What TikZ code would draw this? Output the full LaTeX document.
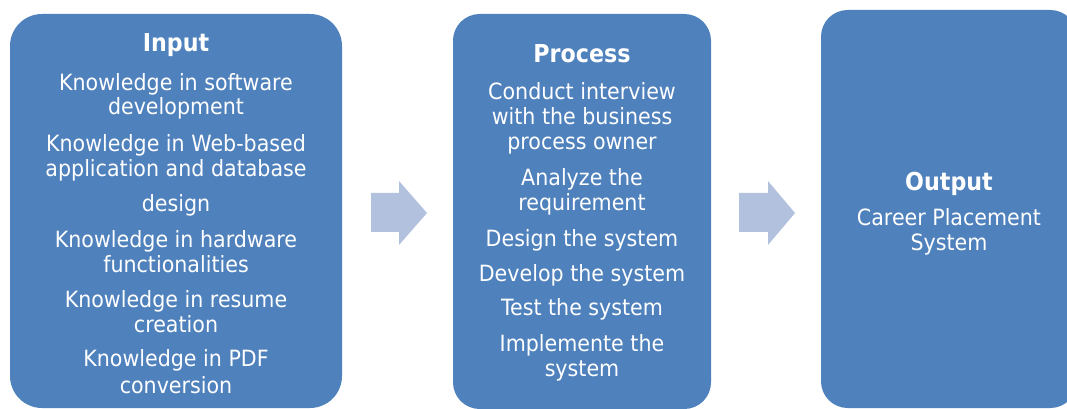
\documentclass[tikz,border=0pt]{standalone}
\usepackage{fontspec}
\setmainfont{DejaVu Sans}[FakeStretch=0.92]
\newfontfamily\ttlfont{DejaVu Sans}[FakeStretch=0.9]
\definecolor{boxblue}{RGB}{79,129,189}
\definecolor{arrowblue}{RGB}{178,194,222}
\begin{document}
\begin{tikzpicture}[x=0.75pt,y=-0.75pt,
  box/.style={fill=boxblue, draw=none, rounded corners=#1, inner sep=0pt, minimum width=0pt},
  flowarrow/.style={fill=arrowblue, draw=none},
  txt/.style={text=white, font=\fontsize{16.8}{19}\selectfont, inner sep=0pt, anchor=base},
  ttl/.style={text=white, font=\ttlfont\bfseries\fontsize{18.5}{21}\selectfont, inner sep=0pt, anchor=base}]
\useasboundingbox (0,0) rectangle (1067,409);
\clip (0,0) rectangle (1067,409);
% boxes
\node[box=24pt, minimum width=249pt, minimum height=295.5pt] (inbox) at (176,211) {};
\node[box=20pt, minimum width=193.5pt, minimum height=296.25pt] (procbox) at (582,211.5) {};
\node[box=20pt, minimum width=192pt, minimum height=298.5pt] (outbox) at (949,209) {};
% arrows
\path[flowarrow] (371,193) -- (399,193) -- (399,181) -- (427,213) -- (399,245) -- (399,232) -- (371,232) -- cycle;
\path[flowarrow] (739,193) -- (768,193) -- (768,181) -- (795,213) -- (768,245) -- (768,232) -- (739,232) -- cycle;
% input text
\node[ttl] (inT) at (176,52) {Input};
\node[txt] (in1) at (176,91) {Knowledge in software};
\node[txt] (in2) at (176,115) {development};
\node[txt] (in3) at (176,152) {Knowledge in Web-based};
\node[txt] (in4) at (176,177) {application and database};
\node[txt] (in5) at (176,212) {design};
\node[txt] (in6) at (176,248) {Knowledge in hardware};
\node[txt] (in7) at (176,273) {functionalities};
\node[txt] (in8) at (176,308) {Knowledge in resume};
\node[txt] (in9) at (176,333) {creation};
\node[txt] (in10) at (176,367) {Knowledge in PDF};
\node[txt] (in11) at (176,393) {conversion};
% process text
\node[ttl] (prT) at (582,63) {Process};
\node[txt] (pr1) at (582,100) {Conduct interview};
\node[txt] (pr2) at (582,125) {with the business};
\node[txt] (pr3) at (582,150) {process owner};
\node[txt] (pr4) at (582,186) {Analyze the};
\node[txt] (pr5) at (582,211) {requirement};
\node[txt] (pr6) at (582,247) {Design the system};
\node[txt] (pr7) at (582,282) {Develop the system};
\node[txt] (pr8) at (582,316) {Test the system};
\node[txt] (pr9) at (582,352) {Implemente the};
\node[txt] (pr10) at (582,377) {system};
% output text
\node[ttl] (ouT) at (949,191) {Output};
\node[txt] (ou1) at (949,226) {Career Placement};
\node[txt] (ou2) at (949,251) {System};
\end{tikzpicture}
\end{document}
